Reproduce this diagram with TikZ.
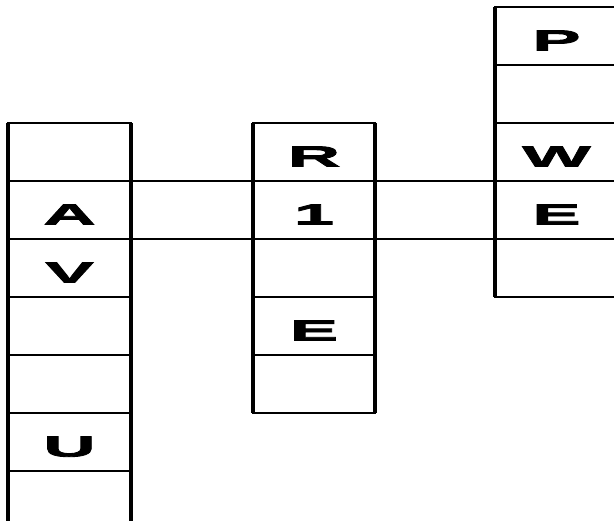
\documentclass[tikz,border=0pt]{standalone}
\usepackage{fontspec}
\newfontfamily\cellfont[FakeStretch=2.5,BoldFeatures={FakeBold=3}]{Liberation Sans}
\tikzset{
  cell/.style={draw, line width=1.8pt, minimum width=123pt, minimum height=58pt,
    inner sep=0pt, outer sep=0pt, text height=29pt, text depth=0pt,
    font=\cellfont\bfseries\fontsize{29}{29}\selectfont},
  side/.style={line width=4pt},
  rung/.style={line width=1.8pt}
}
\begin{document}
\begin{tikzpicture}[x=1pt,y=-1pt]
    \useasboundingbox (0,0) rectangle (614,521);
    \clip (0,0) rectangle (614,521);
    % left column
    \foreach \txt [count=\i] in {{},A,V,{},{},U,{}}
      \node[cell] (L\i) at (69.5,{94+58*\i}) {\txt};
    % middle column
    \foreach \txt [count=\i] in {R,1,{},E,{}}
      \node[cell, minimum width=122pt] (M\i) at (314,{94+58*\i}) {\txt};
    % right column
    \foreach \txt [count=\i] in {P,{},W,E,{}}
      \node[cell] (R\i) at (556.5,{-22+58*\i}) {\txt};
    % thick sides
    \draw[side] (L1.north west) -- (L7.south west);
    \draw[side] (L1.north east) -- (L7.south east);
    \draw[side] (M1.north west) -- (M5.south west);
    \draw[side] (M1.north east) -- (M5.south east);
    \draw[side] (R1.north west) -- (R5.south west);
    \draw[side] (R1.north east) -- (R5.south east);
    % lines across
    \draw[rung] (L1.south east) -- (M1.south west);
    \draw[rung] (M1.south east) -- (R3.south west);
    \draw[rung] (L2.south east) -- (M2.south west);
    \draw[rung] (M2.south east) -- (R4.south west);
\end{tikzpicture}
\end{document}
